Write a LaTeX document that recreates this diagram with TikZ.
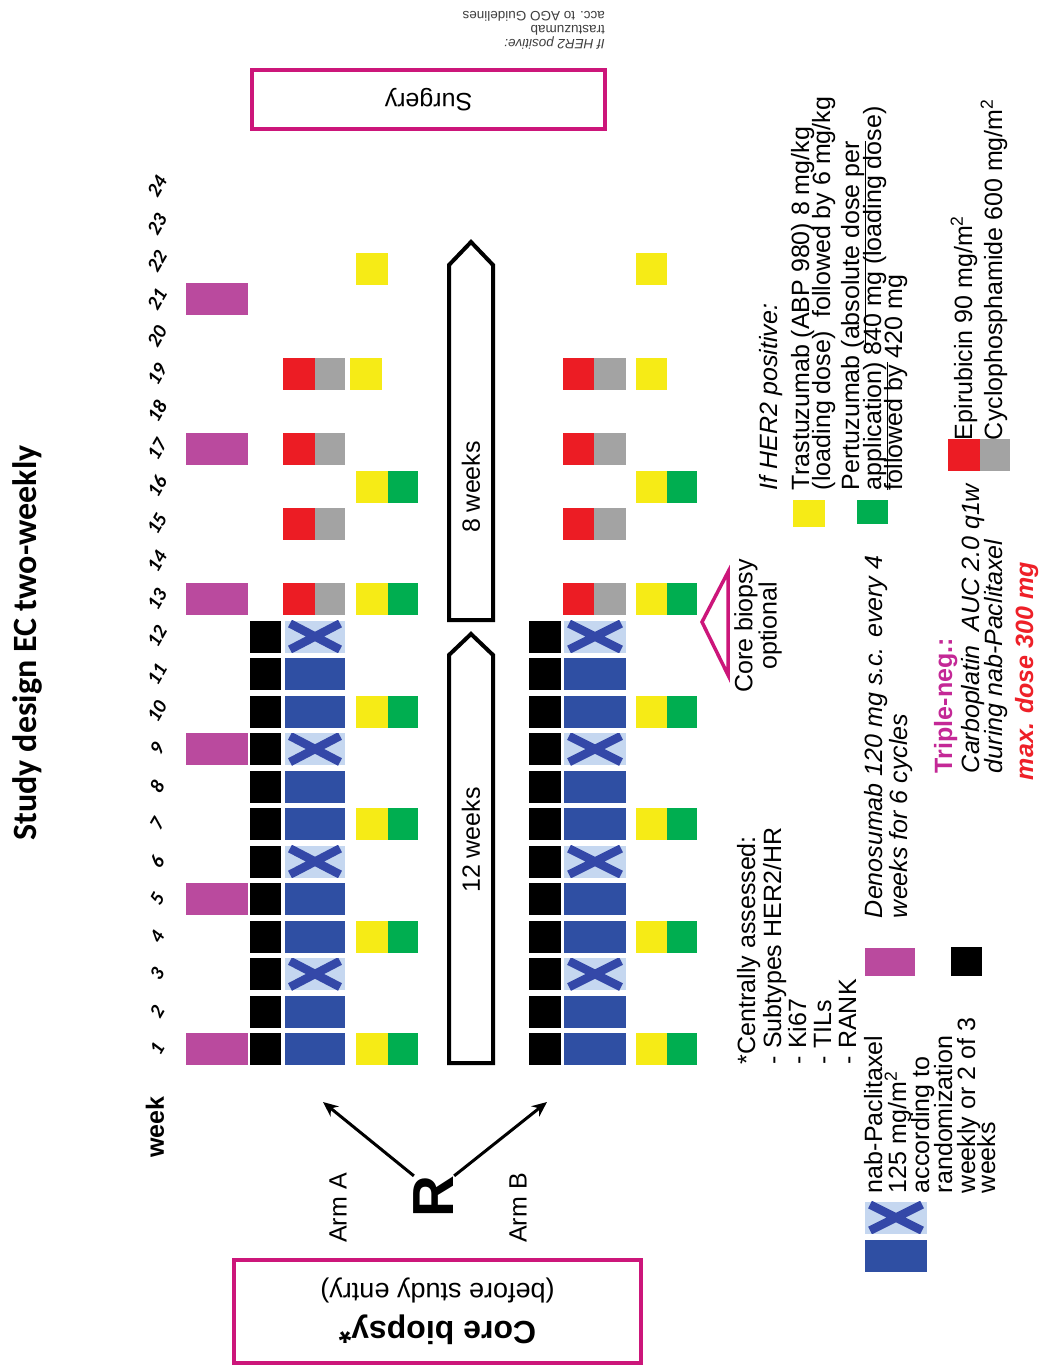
\documentclass[tikz,border=0pt]{standalone}
\usepackage{fontspec}
\setmainfont{Liberation Sans}
\newfontfamily\calfont{Carlito}
\usetikzlibrary{arrows.meta}

\definecolor{deno}{RGB}{186,74,158}
\definecolor{nabblue}{RGB}{47,79,163}
\definecolor{nablight}{RGB}{197,215,240}
\definecolor{xblue}{RGB}{52,72,168}
\definecolor{epired}{RGB}{236,28,36}
\definecolor{cycgray}{RGB}{163,163,163}
\definecolor{trayel}{RGB}{246,235,22}
\definecolor{pergreen}{RGB}{0,174,80}
\definecolor{boxmag}{RGB}{204,22,122}
\definecolor{tnmag}{RGB}{196,40,150}
\definecolor{maxred}{RGB}{238,32,40}

\newcommand\legfont{\fontsize{25}{21}\selectfont}

\tikzset{
  cell/.style={inner sep=0pt, outer sep=0pt, minimum height=32pt},
  den/.style={cell, fill=deno, minimum width=62pt},
  blk/.style={cell, fill=black, minimum width=#1},
  nab/.style={cell, fill=nabblue, minimum width=#1},
  nabx/.style={cell, fill=nablight, minimum width=#1,
    path picture={\draw[xblue, line width=8.5pt]
      ([shift={(5pt,-3pt)}]path picture bounding box.north west) --
      ([shift={(-5pt,3pt)}]path picture bounding box.south east)
      ([shift={(5pt,3pt)}]path picture bounding box.south west) --
      ([shift={(-5pt,-3pt)}]path picture bounding box.north east);}},
  epi/.style={cell, fill=epired, minimum width=#1},
  cyc/.style={cell, fill=cycgray, minimum width=#1},
  tra/.style={cell, fill=trayel, minimum width=#1},
  per/.style={cell, fill=pergreen, minimum width=#1},
  vtxt/.style={inner sep=0pt, outer sep=0pt, font=\legfont, rotate=90, anchor=base west},
  magbox/.style={draw=boxmag, line width=4pt, inner sep=0pt},
  period/.style={draw=black, line width=4pt, line join=miter, fill=white},
  wklab/.style={inner sep=0pt, rotate=60, font=\calfont\fontsize{20}{20}\selectfont\bfseries\itshape},
  randarrow/.style={line width=3pt, -{Stealth[length=15pt,width=13pt]}},
}

\begin{document}
\begin{tikzpicture}[x=1pt,y=-1pt]
\useasboundingbox (0,0) rectangle (1049,1367);
\fill[white] (0,0) rectangle (1049,1367);

% title
\node[inner sep=0pt, rotate=90, font=\calfont\fontsize{34}{34}\selectfont\bfseries] (title) at (27,643) {Study design EC two-weekly};

% week scale
\node[inner sep=0pt, rotate=90, font=\fontsize{25}{25}\selectfont\bfseries] (weeklab) at (155,1127) {week};
\foreach \w in {1,...,24}
  \node[wklab] (wk\w) at (157,{1049-37.5*(\w-1)}) {\w};

% ---- Arm A ----
\foreach \w in {1,5,9,13,17,21}
  \node[den] (aden\w) at (217,{1049-37.5*(\w-1)}) {};
\foreach \w in {1,...,12}
  \node[blk=31pt] (ablk\w) at (265.5,{1049-37.5*(\w-1)}) {};
\foreach \w in {1,2,4,5,7,8,10,11}
  \node[nab=60pt] (anab\w) at (315,{1049-37.5*(\w-1)}) {};
\foreach \w in {3,6,9,12}
  \node[nabx=60pt] (anab\w) at (315,{1049-37.5*(\w-1)}) {};
\foreach \w in {13,15,17,19}{
  \node[epi=32pt] (aepi\w) at (299,{1049-37.5*(\w-1)}) {};
  \node[cyc=30pt] (acyc\w) at (330,{1049-37.5*(\w-1)}) {};
}
\foreach \w in {1,4,7,10,13,16}{
  \node[tra=32pt] (atra\w) at (372,{1049-37.5*(\w-1)}) {};
  \node[per=30pt] (aper\w) at (403,{1049-37.5*(\w-1)}) {};
}
\node[tra=32pt] (atra19) at (366,374) {};
\node[tra=32pt] (atra22) at (372,269) {};

% ---- Arm B ----
\foreach \w in {1,...,12}
  \node[blk=32pt] (bblk\w) at (545,{1049-37.5*(\w-1)}) {};
\foreach \w in {1,2,4,5,7,8,10,11}
  \node[nab=62pt] (bnab\w) at (595,{1049-37.5*(\w-1)}) {};
\foreach \w in {3,6,9,12}
  \node[nabx=62pt] (bnab\w) at (595,{1049-37.5*(\w-1)}) {};
\foreach \w in {13,15,17,19}{
  \node[epi=31pt] (bepi\w) at (578.5,{1049-37.5*(\w-1)}) {};
  \node[cyc=32pt] (bcyc\w) at (610,{1049-37.5*(\w-1)}) {};
}
\foreach \w in {1,4,7,10,13,16}{
  \node[tra=31pt] (btra\w) at (651.5,{1049-37.5*(\w-1)}) {};
  \node[per=30pt] (bper\w) at (682,{1049-37.5*(\w-1)}) {};
}
\node[tra=31pt] (btra19) at (651.5,374) {};
\node[tra=31pt] (btra22) at (651.5,269) {};

% ---- treatment periods ----
\draw[period] (449,1063) -- (449,655) -- (471,634) -- (493,655) -- (493,1063) -- cycle;
\node[inner sep=0pt, rotate=90, font=\legfont] (p12) at (471,840) {12 weeks};
\draw[period] (449,620) -- (449,265) -- (471,242) -- (493,265) -- (493,620) -- cycle;
\node[inner sep=0pt, rotate=90, font=\legfont] (p8) at (471,487) {8 weeks};

% ---- randomisation ----
\node[inner sep=0pt, rotate=90, font=\fontsize{58}{58}\selectfont\bfseries] (R) at (434,1197) {R};
\coordinate (aTip) at (323,1102);
\coordinate (bTip) at (547,1102);
\draw[randarrow] (R.north east) -- (aTip);
\draw[randarrow] (R.south east) -- (bTip);
\node[inner sep=0pt, rotate=90, font=\legfont] (armA) at (338,1208) {Arm A};
\node[inner sep=0pt, rotate=90, font=\legfont] (armB) at (518,1208) {Arm B};

% ---- core biopsy and surgery ----
\node[magbox, rotate=180, minimum width=407pt, minimum height=103pt, align=center,
      font=\fontsize{27}{38}\selectfont] (cb) at (437.5,1311.5)
  {{\fontsize{32}{36}\selectfont\bfseries Core biopsy*}\\(before study entry)};
\node[magbox, rotate=180, minimum width=353pt, minimum height=59pt,
      font=\fontsize{25}{30}\selectfont] (surg) at (428.5,99.5) {Surgery};
\node[rotate=180, anchor=north west, align=left, inner sep=0pt, text=black!75,
      font=\fontsize{13.5}{14}\selectfont] (note) at (605,49)
  {\textit{If HER2 positive:}\\trastuzumab\\acc. to AGO Guidelines};

% optional biopsy marker
\draw[boxmag, line width=3.5pt, line join=miter] (702,622) -- (728,572) -- (728,675) -- cycle;
\node[rotate=90, align=center, inner sep=0pt, font=\legfont] (opt) at (758,626) {Core biopsy\\optional};

% ---- legend: central assessment ----
\node[vtxt] (ca1) at (755,1064) {*Centrally assessed:};
\node[vtxt] (ca2) at (781,1064) {- Subtypes HER2/HR};
\node[vtxt] (ca3) at (806,1064) {- Ki67};
\node[vtxt] (ca4) at (831,1064) {- TILs};
\node[vtxt] (ca5) at (856,1064) {- RANK};

% ---- legend: nab-paclitaxel ----
\node[nabx=62pt] (lgx) at (896,1217.5) {};
\node[nab=62pt] (lgnab) at (896,1256) {};
\node[vtxt] (np1) at (882,1193) {nab-Paclitaxel};
\node[vtxt] (np2) at (906,1193) {125 mg/m\textsuperscript{2}};
\node[vtxt] (np3) at (929,1193) {according to};
\node[vtxt] (np4) at (952,1193) {randomization};
\node[vtxt] (np5) at (975,1193) {weekly or 2 of 3};
\node[vtxt] (np6) at (995,1193) {weeks};

% ---- legend: denosumab / carboplatin ----
\node[cell, fill=deno, minimum width=50pt, minimum height=28pt] (lgden) at (890,962) {};
\node[cell, fill=black, minimum width=31pt, minimum height=29pt] (lgblk) at (966.5,961.5) {};
\node[vtxt, font=\legfont\itshape] (dn1) at (882,918) {Denosumab 120 mg s.c. every 4};
\node[vtxt, font=\legfont\itshape] (dn2) at (907,918) {weeks for 6 cycles};
\node[vtxt, font=\legfont\bfseries, text=tnmag] (tn1) at (952,773) {Triple-neg.:};
\node[vtxt, font=\legfont\itshape] (tn2) at (979,773) {Carboplatin\ \ AUC 2.0 q1w};
\node[vtxt, font=\legfont\itshape] (tn3) at (1002,773) {during nab-Paclitaxel};
\node[vtxt, font=\legfont\bfseries\itshape, text=maxred] (tn4) at (1033,780) {max. dose 300 mg};

% ---- legend: HER2 positive ----
\node[cell, fill=trayel, minimum width=32pt, minimum height=27pt] (lgtra) at (809,513.5) {};
\node[cell, fill=pergreen, minimum width=31pt, minimum height=24pt] (lgper) at (872.5,512) {};
\node[vtxt, font=\legfont\itshape] (hp0) at (777,490) {If HER2 positive:};
\node[vtxt] (hp1) at (809,490) {Trastuzumab (ABP 980) 8 mg/kg};
\node[vtxt] (hp2) at (830,490) {(loading dose)\ \ followed by 6 mg/kg};
\node[vtxt] (hp3) at (859,490) {Pertuzumab \underline{(absolute dose per}};
\node[vtxt] (hp4) at (881,490) {\underline{application)} 840 mg (loading dose)};
\node[vtxt] (hp5) at (902,490) {followed by 420 mg};

% ---- legend: EC ----
\node[epi=32pt] (lgepi) at (964,455) {};
\node[cyc=30pt] (lgcyc) at (995,455) {};
\node[vtxt] (ec1) at (972,440) {Epirubicin 90 mg/m\textsuperscript{2}};
\node[vtxt] (ec2) at (1002,440) {Cyclophosphamide 600 mg/m\textsuperscript{2}};
\end{tikzpicture}
\end{document}
